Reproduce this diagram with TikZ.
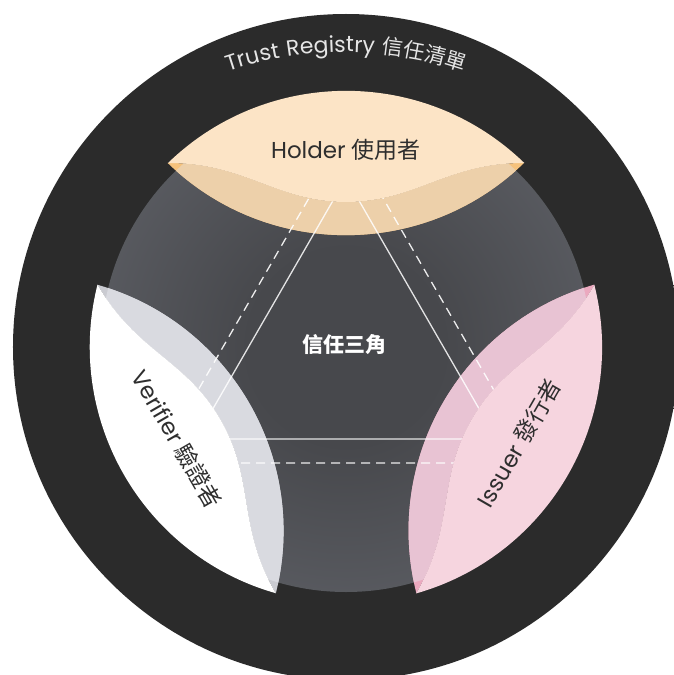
\documentclass[tikz,border=0pt]{standalone}
\usepackage{fontspec}
\setmainfont{Poppins}
\newfontfamily\cjk{Noto Sans CJK TC}
\newfontfamily\trfont[LetterSpace=5]{Poppins}
\newfontfamily\trcjk[LetterSpace=3]{Noto Sans CJK TC}
\usetikzlibrary{decorations.text}
\definecolor{ringin}{HTML}{2B2B2B}
\definecolor{ringout}{HTML}{4C4C4C}
\definecolor{grayin}{HTML}{47484C}
\definecolor{grayout}{HTML}{72757D}
\definecolor{hlight}{HTML}{FCE4C6}
\definecolor{hdark}{HTML}{EDD0AA}
\definecolor{htip}{HTML}{F6C27C}
\definecolor{vlight}{HTML}{FFFFFF}
\definecolor{vdark}{HTML}{D9DAE0}
\definecolor{vtip}{HTML}{CACBD1}
\definecolor{ilight}{HTML}{F6D5DF}
\definecolor{idark}{HTML}{E8C3D3}
\definecolor{itip}{HTML}{EBA9BF}
\definecolor{lbltext}{HTML}{2E2E2E}
\definecolor{trtext}{HTML}{E6E6E6}
\pgfdeclareradialshading{ringshade}{\pgfpoint{0bp}{0bp}}{color(0bp)=(ringin); color(42bp)=(ringin); color(49bp)=(ringout); color(50bp)=(ringout)}
\pgfdeclareradialshading{grayshade}{\pgfpoint{0bp}{0bp}}{color(0bp)=(grayin); color(10bp)=(grayin); color(50bp)=(grayout)}
\tikzset{
  lensinner/.style={insert path={(-178,184) .. controls (-100,184) and (-70,145) .. (0,145) .. controls (70,145) and (100,184) .. (178,184) arc[start angle=-45.9, end angle=-134.1, radius=256] -- cycle}},
  lensouter/.style={insert path={(-178,184) arc[start angle=134.1, end angle=45.9, radius=256] .. controls (100,184) and (70,145) .. (0,145) .. controls (-70,145) and (-100,184) .. (-178,184) -- cycle}},
  solidln/.style={draw=white, draw opacity=0.85, line width=1.3pt},
  dashln/.style={draw=white, draw opacity=0.9, line width=1.3pt, dash pattern=on 9pt off 6pt},
  lbl/.style={text=lbltext, font=\fontsize{23}{27}\selectfont, inner sep=0pt},
}
\begin{document}
\begin{tikzpicture}[x=1pt,y=1pt]
\useasboundingbox (-346,-328) rectangle (327,347);
\fill[white] (-346,-328) rectangle (327,347);
\coordinate (O) at (0,0);
\shade[shading=ringshade] (O) circle[radius=333];
\shade[shading=grayshade] (O) circle[radius=245];
% inner (darker) parts of the lenses
\foreach \ang/\tc/\dc in {0/htip/hdark, 120/vtip/vdark, -120/itip/idark}{
  \begin{scope}[rotate=\ang]
    \fill[\tc, lensinner];
    \begin{scope}
      \clip (0,0) circle[radius=245];
      \fill[\dc, lensinner];
    \end{scope}
  \end{scope}
}
% trust triangle lines
\coordinate (s1) at (0,169);
\coordinate (s2) at (-150.5,-92);
\coordinate (s3) at (150.5,-92);
\coordinate (d1) at (0,213);
\coordinate (d2) at (-190,-116);
\coordinate (d3) at (190,-116);
\draw[solidln] (s1) -- (s2) -- (s3) -- cycle;
\draw[dashln] (d1) -- (d2) -- (d3) -- cycle;
% outer (light) parts of the lenses
\foreach \ang/\lc in {0/hlight, 120/vlight, -120/ilight}{
  \begin{scope}[rotate=\ang]
    \fill[\lc, lensouter];
  \end{scope}
}
% labels
\node[lbl, anchor=base] (holder) at (0,188) {Holder {\cjk 使用者}};
\node[lbl, rotate=-60] (verifier) at (-169,-92) {Verifier {\cjk 驗證者}};
\node[lbl, rotate=60] (issuer) at (173,-96) {Issuer {\cjk 發行者}};
\node[text=white, font=\cjk\bfseries\fontsize{21}{24}\selectfont, inner sep=0pt] (tri) at (-1,2) {信任三角};
\path[decorate, decoration={text along path, text align=center, text color=trtext,
  text={|\fontsize{22}{26}\selectfont\trfont|Trust Registry |\fontsize{21}{26}\selectfont\trcjk|信任清單}}]
  (0,-70) ++(113:365) arc[start angle=113, end angle=67, radius=365];
\end{tikzpicture}
\end{document}
